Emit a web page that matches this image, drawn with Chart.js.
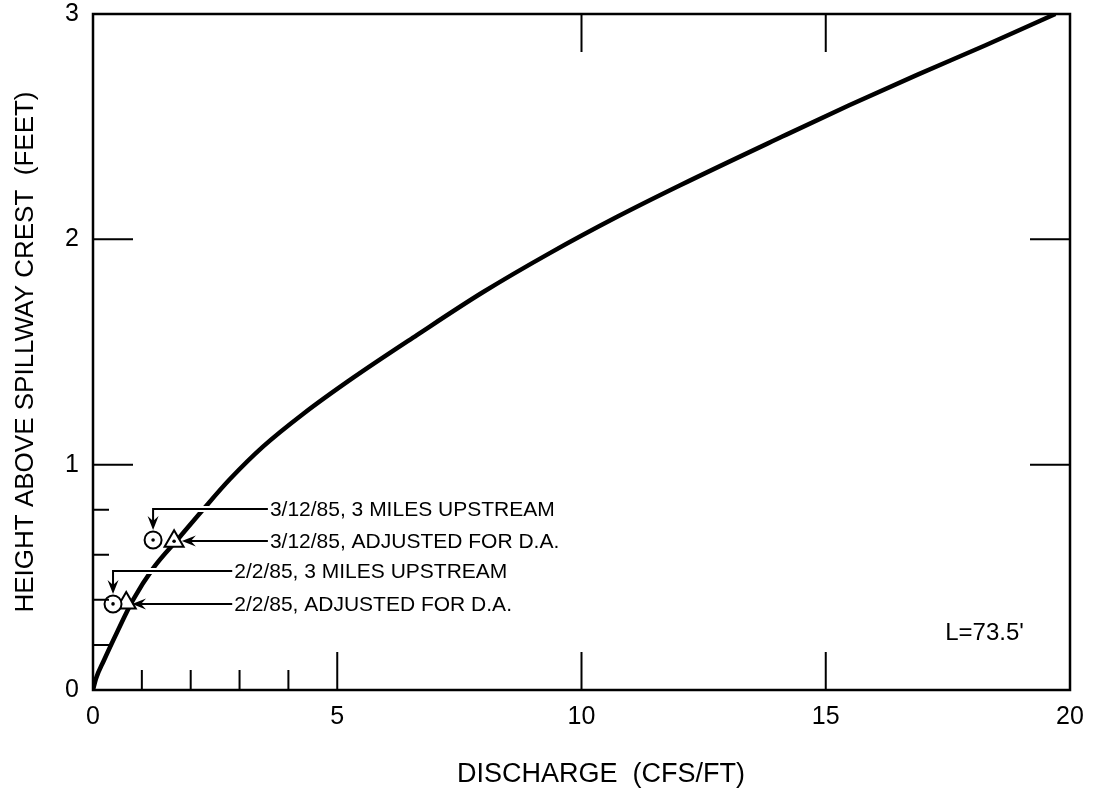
<!DOCTYPE html>
<html>
<head>
<meta charset="utf-8">
<script src="https://cdn.jsdelivr.net/npm/chart.js@4.4.0/dist/chart.umd.min.js"></script>
<style>
  html, body { margin: 0; padding: 0; background: #fff; }
  #wrap { width: 1097px; height: 792px; }
</style>
</head>
<body>
<div id="wrap"><canvas id="ratingChart"></canvas></div>
<script>
// Rating curve
const dischargeX = [0, 0.06, 0.22, 0.50, 0.82, 1.23, 1.78, 2.25, 2.80, 3.48, 4.30, 5.32, 6.63, 7.98, 9.36, 10.73, 12.02, 14.10, 15.48, 16.87, 18.26, 19.70];
const heightY    = [0, 0.05, 0.13, 0.26, 0.40, 0.54, 0.68, 0.80, 0.935, 1.08, 1.225, 1.385, 1.575, 1.765, 1.94, 2.10, 2.24, 2.455, 2.595, 2.73, 2.86, 3.00];

// Field points (circle = 3 miles upstream, triangle = adjusted for D.A.)
const upstreamX = [1.23, 0.41];
const upstreamY = [0.666, 0.382];
const adjustedX = [1.66, 0.68];
const adjustedY = [0.66, 0.386];

// Labels and their leader lines
const noteLabels = ['3/12/85, 3 MILES UPSTREAM', '3/12/85, ADJUSTED FOR D.A.', '2/2/85, 3 MILES UPSTREAM', '2/2/85, ADJUSTED FOR D.A.'];
const noteY      = [0.803, 0.661, 0.528, 0.382];
const noteStartX = [3.58, 3.58, 2.85, 2.85];
const adjustedTipX = [1.86, 0.84];

// Tick marks drawn inside the frame
const xMajorTicks = [5, 10, 15];
const xMinorTicks = [1, 2, 3, 4];
const xTopTicks = [10, 15];
const yMajorTicks = [1, 2];
const yMinorTicks = [0.2, 0.4, 0.6, 0.8];
const yRightTicks = [1, 2];

const weirLabel = "L=73.5'";
const weirLabelX = 18.25;
const weirLabelY = 0.253;

const xTitle = 'DISCHARGE  (CFS/FT)';
const xTitleAt = 10.4;

const FONT = '"Liberation Sans", Arial, Helvetica, sans-serif';

const curve = dischargeX.map((x, i) => ({x: x, y: heightY[i]}));
const circles = upstreamX.map((x, i) => ({x: x, y: upstreamY[i]}));
const triangles = adjustedX.map((x, i) => ({x: x, y: adjustedY[i]}));
const dots = circles.concat([triangles[0]]);

function arrowHead(ctx, tx, ty, dir) {
  // dir: 'left' or 'down'
  const len = 14, half = 5.5, notch = 9;
  ctx.beginPath();
  if (dir === 'left') {
    ctx.moveTo(tx, ty);
    ctx.lineTo(tx + len, ty - half);
    ctx.lineTo(tx + notch, ty);
    ctx.lineTo(tx + len, ty + half);
  } else {
    ctx.moveTo(tx, ty);
    ctx.lineTo(tx - half, ty - len);
    ctx.lineTo(tx, ty - notch);
    ctx.lineTo(tx + half, ty - len);
  }
  ctx.closePath();
  ctx.fill();
}

const framePlugin = {
  id: 'frame',
  afterDatasetsDraw(chart) {
    const ctx = chart.ctx;
    const a = chart.chartArea;
    const xs = chart.scales.x, ys = chart.scales.y;
    ctx.save();
    ctx.strokeStyle = '#000';
    ctx.fillStyle = '#000';
    ctx.lineWidth = 2.5;
    ctx.strokeRect(a.left, a.top, a.right - a.left, a.bottom - a.top);

    ctx.lineWidth = 2;
    ctx.beginPath();
    xMajorTicks.forEach(v => { const p = xs.getPixelForValue(v); ctx.moveTo(p, a.bottom); ctx.lineTo(p, a.bottom - 38); });
    xMinorTicks.forEach(v => { const p = xs.getPixelForValue(v); ctx.moveTo(p, a.bottom); ctx.lineTo(p, a.bottom - 20); });
    xTopTicks.forEach(v => { const p = xs.getPixelForValue(v); ctx.moveTo(p, a.top); ctx.lineTo(p, a.top + 38); });
    yMajorTicks.forEach(v => { const p = ys.getPixelForValue(v); ctx.moveTo(a.left, p); ctx.lineTo(a.left + 40, p); });
    yMinorTicks.forEach(v => { const p = ys.getPixelForValue(v); ctx.moveTo(a.left, p); ctx.lineTo(a.left + 16, p); });
    yRightTicks.forEach(v => { const p = ys.getPixelForValue(v); ctx.moveTo(a.right, p); ctx.lineTo(a.right - 40, p); });
    ctx.stroke();

    // leader lines
    ctx.font = '21px ' + FONT;
    ctx.textBaseline = 'middle';
    ctx.textAlign = 'left';
    noteLabels.forEach((txt, i) => {
      const k = Math.floor(i / 2);
      const ly = ys.getPixelForValue(noteY[i]);
      const sx = xs.getPixelForValue(noteStartX[i]);
      if (i % 2 === 0) {
        const cx = xs.getPixelForValue(upstreamX[k]);
        const cy = ys.getPixelForValue(upstreamY[k]);
        // white halo so the curve shows a break where the line crosses it
        ctx.strokeStyle = '#fff';
        ctx.lineWidth = 6;
        ctx.beginPath();
        ctx.moveTo(sx - 4, ly);
        ctx.lineTo(cx + 14, ly);
        ctx.stroke();
        ctx.strokeStyle = '#000';
        ctx.lineWidth = 2;
        ctx.beginPath();
        ctx.moveTo(sx, ly);
        ctx.lineTo(cx, ly);
        ctx.lineTo(cx, cy - 14);
        ctx.stroke();
        arrowHead(ctx, cx, cy - 10, 'down');
      } else {
        const tx = xs.getPixelForValue(adjustedTipX[k]);
        ctx.strokeStyle = '#000';
        ctx.lineWidth = 2;
        ctx.beginPath();
        ctx.moveTo(sx, ly);
        ctx.lineTo(tx + 6, ly);
        ctx.stroke();
        arrowHead(ctx, tx - 2, ly, 'left');
      }
      ctx.fillText(txt, sx + 2, ly + 1);
    });

    ctx.font = '24px ' + FONT;
    ctx.textAlign = 'center';
    ctx.fillText(weirLabel, xs.getPixelForValue(weirLabelX), ys.getPixelForValue(weirLabelY));

    ctx.font = '27px ' + FONT;
    ctx.textBaseline = 'alphabetic';
    ctx.fillText(xTitle, xs.getPixelForValue(xTitleAt), a.bottom + 92);
    ctx.restore();
  }
};

new Chart(document.getElementById('ratingChart'), {
  type: 'scatter',
  data: {
    datasets: [
      {data: dots, pointRadius: 1.8, pointBackgroundColor: '#000', pointBorderWidth: 0, order: 0},
      {data: circles, pointStyle: 'circle', pointRadius: 8.5, pointBorderWidth: 2, pointBorderColor: '#000', pointBackgroundColor: '#fff', order: 1},
      {data: triangles, pointStyle: 'triangle', pointRadius: 11, pointBorderWidth: 2, pointBorderColor: '#000', pointBackgroundColor: '#fff', order: 2},
      {data: curve, showLine: true, borderColor: '#000', borderWidth: 4.5, pointRadius: 0, cubicInterpolationMode: 'monotone', order: 3}
    ]
  },
  options: {
    responsive: true,
    maintainAspectRatio: false,
    animation: false,
    layout: {padding: {top: 14, right: 27, left: 0, bottom: 0}},
    plugins: {legend: {display: false}, tooltip: {enabled: false}},
    scales: {
      x: {
        type: 'linear', min: 0, max: 20,
        grid: {display: false, drawTicks: false}, border: {display: false},
        ticks: {stepSize: 5, color: '#000', padding: 12, font: {family: FONT, size: 25}},
        afterFit(s) { s.height = 102; s.paddingLeft = 0; s.paddingRight = 0; }
      },
      y: {
        type: 'linear', min: 0, max: 3,
        grid: {display: false, drawTicks: false}, border: {display: false},
        ticks: {stepSize: 1, color: '#000', padding: 14, font: {family: FONT, size: 25, lineHeight: 1}},
        title: {display: true, text: 'HEIGHT ABOVE SPILLWAY CREST  (FEET)', color: '#000', font: {family: FONT, size: 26}, padding: {top: 10, bottom: 0}},
        afterFit(s) { s.width = 93; s.paddingTop = 0; s.paddingBottom = 0; }
      }
    }
  },
  plugins: [framePlugin]
});
</script>
</body>
</html>
